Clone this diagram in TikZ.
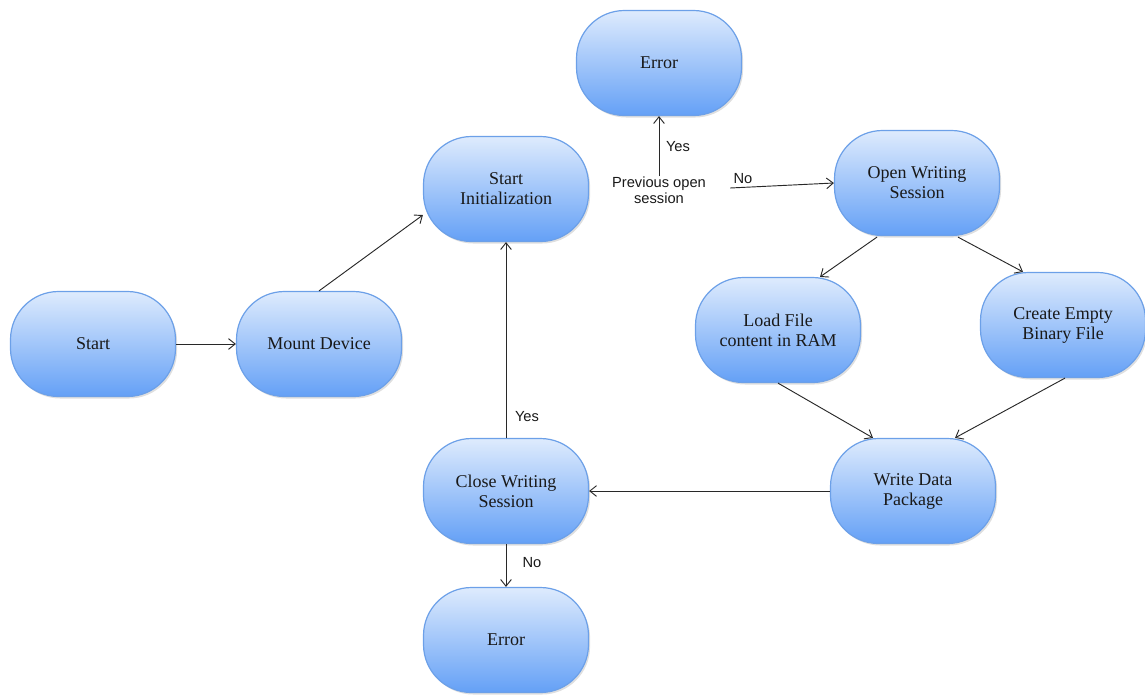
\documentclass[tikz,border=0pt]{standalone}
\usepackage{fontspec}
\setmainfont{Liberation Serif}
\newfontfamily\boxfont{Liberation Serif}
\newfontfamily\labelfont{Liberation Sans}
\usetikzlibrary{arrows.meta,shadows,calc}

\definecolor{boxtop}{RGB}{222,235,253}
\definecolor{boxbot}{RGB}{100,160,246}
\definecolor{boxline}{RGB}{108,160,232}
\definecolor{wire}{RGB}{40,40,40}

\begin{document}
\begin{tikzpicture}[x=0.75pt,y=-0.75pt,
  stepbox/.style={draw=boxline, line width=0.9pt, rounded corners=36pt,
    minimum width=123.75pt, minimum height=78.75pt,
    top color=boxtop, bottom color=boxbot, align=center,
    font=\boxfont\fontsize{13.5}{15}\selectfont, text=black!90,
    drop shadow={shadow xshift=1.2pt,shadow yshift=-1.5pt,opacity=0.25}},
  flow/.style={draw=wire, line width=0.7pt, -{Straight Barb[length=5pt,width=8pt]}},
  note/.style={font=\labelfont\fontsize{11}{12}\selectfont, align=center,
    inner sep=0pt, text=black!90}]

\useasboundingbox (0,0) rectangle (1145,694);

% process steps
\node[stepbox] (start) at (93,344)  {Start};
\node[stepbox] (mount) at (319,344) {Mount Device};
\node[stepbox] (init)  at (506,189) {Start\\Initialization};
\node[stepbox] (errtop) at (659,63) {Error};
\node[stepbox] (open)  at (917,183) {Open Writing\\Session};
\node[stepbox] (load)  at (778,330) {Load File\\content in RAM};
\node[stepbox] (create) at (1063,325) {Create Empty\\Binary File};
\node[stepbox] (write) at (913,491) {Write Data\\Package};
\node[stepbox] (close) at (506,491) {Close Writing\\Session};
\node[stepbox] (errbot) at (506,640) {Error};

% decision text
\node[note] (prev) at (659,190) {Previous open\\session};

% connectors
\draw[flow] (start) -- (mount);
\draw[flow] (mount.north) -- ($(init.west)+(0,26)$);
\draw[flow] (prev.north) -- (errtop.south);
\draw[flow] ($(prev.east)+(24,-2)$) -- (open.west);
\draw[flow] ($(open.south)+(-40,1)$) -- ($(load.north)+(42,0)$);
\draw[flow] ($(open.south)+(41,1)$) -- ($(create.north)+(-40,0)$);
\draw[flow] (load.south) -- ($(write.north)+(-40,0)$);
\draw[flow] ($(create.south)+(2,0)$) -- ($(write.north)+(42,0)$);
\draw[flow] (write.west) -- (close.east);
\draw[flow] (close.north) -- (init.south);
\draw[flow] (close.south) -- (errbot.north);

% branch labels
\node[note] (yes1) at (678,147) {Yes};
\node[note] (no1)  at (743,179) {No};
\node[note] (yes2) at (527,417) {Yes};
\node[note] (no2)  at (532,563) {No};
\end{tikzpicture}
\end{document}
